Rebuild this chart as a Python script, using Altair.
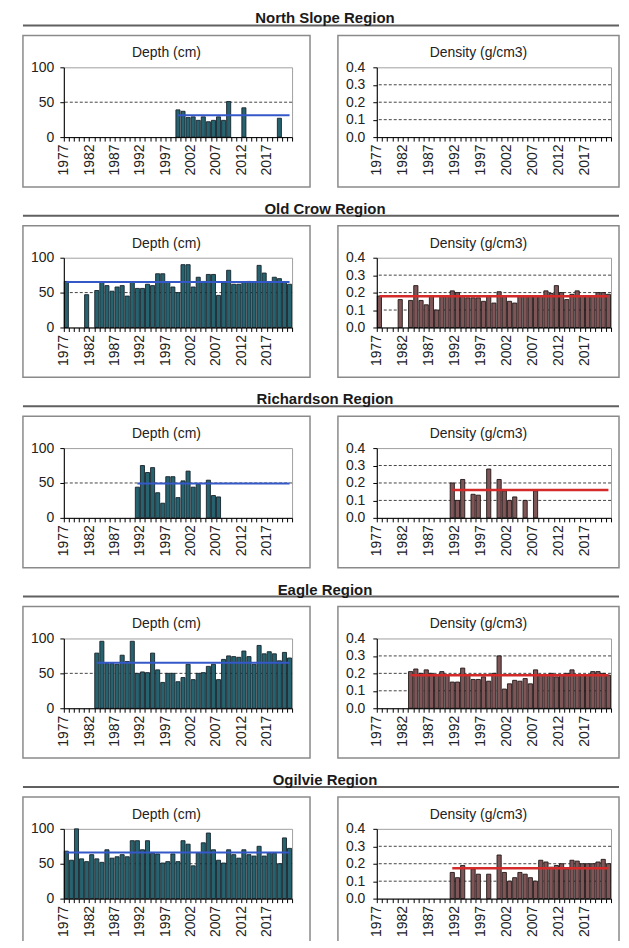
import altair as alt
import pandas as pd

N = None
YEARS = list(range(1977, 2022))
REGIONS = ["North Slope Region", "Old Crow Region", "Richardson Region",
           "Eagle Region", "Ogilvie Region"]

NORTH_SLOPE_DEPTH = [N] * 22 + [39, 37, 28, 29, 24, 29, 22, 24, 29, 24, 51] + [N, N, 42] + [N] * 6 + [27, N, N]
NORTH_SLOPE_DENSITY = [N] * 45

OLD_CROW_DEPTH = [66, N, N, N, 47, N,
                  53, 65, 60, 52, 58, 60, 45, 65, 56, 56, 62, 60, 77, 77, 65, 58, 50, 90, 90, 58,
                  72, 66, 76, 76, 46, 64, 82, 62, 62, 65, 66, 65, 89, 78, 65, 72, 70, 65, 62]
OLD_CROW_DENSITY = [0.18, N, N, N, 0.16, N,
                    0.155, 0.24, 0.155, 0.13, 0.18, 0.10, 0.18, 0.18, 0.21, 0.20, 0.18, 0.17, 0.17,
                    0.17, 0.15, 0.18, 0.14, 0.205, 0.18, 0.15, 0.14, 0.18, 0.18, 0.18, 0.18, 0.18,
                    0.21, 0.195, 0.24, 0.20, 0.16, 0.19, 0.21, 0.18, 0.18, 0.18, 0.20, 0.20, 0.19]

RICHARDSON_DEPTH = [N] * 14 + [44, 75, 65, 72, 36, 21, 59, 59, 29, 53, 67, 44, 48, N, 54, 32, 30] + [N] * 14
RICHARDSON_DENSITY = [N] * 14 + [0.20, 0.10, 0.22, N, 0.135, 0.13, N, 0.28, N, 0.22, 0.155, 0.10,
                                 0.12, N, 0.10, N, 0.155] + [N] * 14

EAGLE_DEPTH = [N] * 6 + [79, 96, 64, 64, 63, 76, 67, 96, 50, 52, 51, 79, 55, 37, 50, 50, 38, 44, 63,
                         41, 50, 51, 60, 63, 41, 70, 75, 74, 73, 82, 74, 63, 90, 78, 81, 78, 68, 80, 72]
EAGLE_DENSITY = [N] * 6 + [0.21, 0.225, 0.20, 0.22, 0.20, 0.19, 0.21, 0.19, 0.15, 0.15, 0.23, 0.19,
                           0.165, 0.165, 0.18, 0.155, 0.20, 0.30, 0.11, 0.14, 0.16, 0.155, 0.17, 0.14,
                           0.22, 0.19, 0.19, 0.20, 0.18, 0.19, 0.20, 0.22, 0.19, 0.19, 0.19, 0.21, 0.21,
                           0.20, 0.19]

OGILVIE_DEPTH = [68, 55, 100, 57, 53, 63, 57, 52, 70, 58, 60, 63, 60, 83, 83, 70, 83, 65, 64, 51, 53,
                 64, 53, 83, 78, 47, 65, 80, 94, 70, 55, 51, 70, 63, 58, 70, 63, 61, 75, 61, 65, 65,
                 50, 87, 72]
OGILVIE_DENSITY = [N] * 14 + [0.15, 0.12, 0.19, N, 0.17, 0.14, N, 0.14, N, 0.25, 0.15, 0.10, 0.12,
                              0.15, 0.14, 0.12, 0.10, 0.22, 0.21, 0.18, 0.19, 0.20, 0.17, 0.22, 0.215,
                              0.20, 0.20, 0.20, 0.21, 0.225, 0.20]

DEPTH_SERIES = [NORTH_SLOPE_DEPTH, OLD_CROW_DEPTH, RICHARDSON_DEPTH, EAGLE_DEPTH, OGILVIE_DEPTH]
DENSITY_SERIES = [NORTH_SLOPE_DENSITY, OLD_CROW_DENSITY, RICHARDSON_DENSITY, EAGLE_DENSITY, OGILVIE_DENSITY]

DEPTH_TICKS = [0, 50, 100]
DENSITY_TICKS = [0.0, 0.1, 0.2, 0.3, 0.4]
DEPTH_GRID = [50]
DENSITY_GRID = [0.1, 0.2, 0.3]

FONT = "Liberation Sans"
W_DEPTH, W_DENS, H = 229, 235, 70


def panel(values, depth, region=None):
    width = W_DEPTH if depth else W_DENS
    rows = [{"x0": y + 0.1, "x1": y + 0.9, "v": v} for y, v in zip(YEARS, values) if v is not None]
    ymax = 100 if depth else 0.4
    xscale = alt.Scale(domain=[1977, 2022], nice=False, zero=False)
    yscale = alt.Scale(domain=[0, ymax], nice=False, zero=True)
    common = dict(domainColor="#000000", tickColor="#000000", labelColor="#222222",
                  labelFont=FONT, labelFontSize=14, title=None, grid=False, zindex=1,
                  labelFlush=False, labelOverlap=False, labelBound=False)
    xaxis = alt.Axis(values=list(range(1977, 2023)), format="d",
                     labelExpr="datum.value % 5 == 2 && datum.value < 2022 ? datum.label : ''",
                     labelAngle=270, tickSize=4, labelPadding=3, **common)
    if depth:
        yaxis = alt.Axis(values=DEPTH_TICKS, format="d", tickSize=4, labelPadding=6, **common)
    else:
        yaxis = alt.Axis(values=DENSITY_TICKS, format=".1f", tickSize=4, labelPadding=8, **common)

    one = alt.Data(values=[{"a": 0}])
    fx0, fx1 = (-41, width + 18) if depth else (-39, width + 8)
    frame = alt.Chart(one).mark_rect(fillOpacity=0, stroke="#8a8a8a", strokeWidth=1.5).encode(
        x=alt.value(fx0), x2=alt.value(fx1), y=alt.value(-32), y2=alt.value(H + 50))
    title = alt.Chart(one).mark_text(
        text="Depth (cm)" if depth else "Density (g/cm3)", font=FONT, fontSize=14,
        color="#222222", align="center", baseline="middle").encode(
        x=alt.value((fx0 + fx1) / 2), y=alt.value(-14))

    grid = alt.Chart(alt.Data(values=[{"g": g} for g in (DEPTH_GRID if depth else DENSITY_GRID)])).mark_rule(
        color="#444444", strokeDash=[3, 2], strokeWidth=1).encode(
        y=alt.Y("g:Q", scale=yscale, axis=yaxis))

    bars = alt.Chart(alt.Data(values=rows)).mark_bar(
        fill="#27626f" if depth else "#7f5658",
        stroke="#16232a" if depth else "#201616", strokeWidth=0.9).encode(
        x=alt.X("x0:Q", scale=xscale, axis=xaxis),
        x2="x1:Q",
        y=alt.Y("v:Q", scale=yscale, axis=yaxis),
        y2=alt.datum(0))

    layers = [frame, title, grid, bars]

    vals = [v for v in values if v is not None]
    if vals:
        first = next(y for y, v in zip(YEARS, values) if v is not None)
        mean_df = alt.Data(values=[{"s": first + 0.5, "e": 2021.5, "m": sum(vals) / len(vals)}])
        mean = alt.Chart(mean_df).mark_rule(
            color="#3558c8" if depth else "#d42a2a", strokeWidth=2 if depth else 2.5).encode(
            x=alt.X("s:Q", scale=xscale, axis=xaxis), x2="e:Q",
            y=alt.Y("m:Q", scale=yscale, axis=yaxis))
        layers.append(mean)

    if region is not None:
        underline = alt.Chart(one).mark_rule(color="#606060", strokeWidth=2).encode(
            x=alt.value(-41), x2=alt.value(557), y=alt.value(-42))
        rtitle = alt.Chart(one).mark_text(
            text=region, font=FONT, fontSize=15, fontWeight="bold", color="#1a1a1a",
            align="center", baseline="middle").encode(x=alt.value(262), y=alt.value(-49))
        layers += [underline, rtitle]

    return alt.layer(*layers).properties(width=width, height=H)


panels = []
for region, dep, den in zip(REGIONS, DEPTH_SERIES, DENSITY_SERIES):
    panels.append(panel(dep, True, region))
    panels.append(panel(den, False))

chart = alt.ConcatChart(
    concat=panels, columns=2, spacing={"row": 121, "column": 85}, bounds="flush"
).properties(
    padding={"left": 13, "top": 1, "right": 0, "bottom": -11},
    background="white",
).configure_view(stroke="#a0a0a0", strokeWidth=1)

chart.save("out.html", embed_options={"renderer": "svg", "actions": False})
